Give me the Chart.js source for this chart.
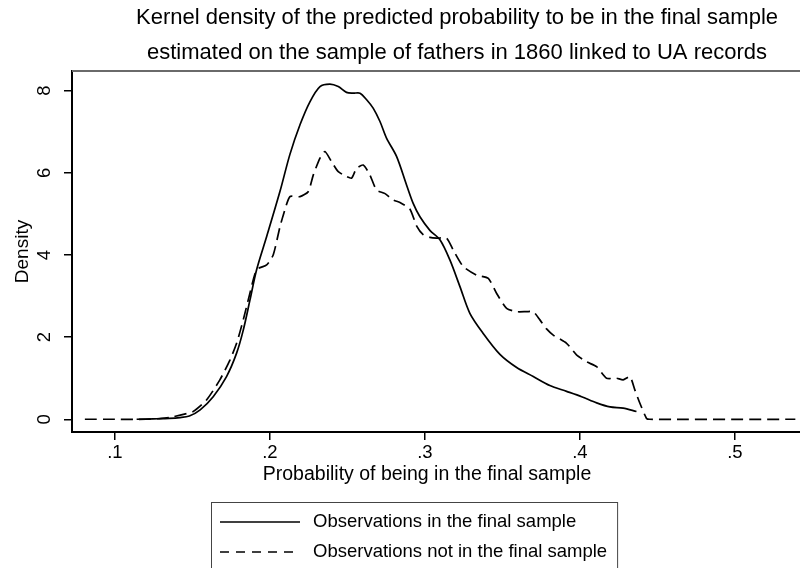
<!DOCTYPE html>
<html>
<head>
<meta charset="utf-8">
<script src="https://cdn.jsdelivr.net/npm/chart.js@4/dist/chart.umd.min.js"></script>
<style>
html,body{margin:0;padding:0;background:#fff;overflow:hidden;}
#wrap{width:800px;height:568px;}
</style>
</head>
<body>
<div id="wrap"><canvas id="c" width="800" height="568"></canvas></div>
<script>
// ---- data ----
const titleLines = [
  "Kernel density of the predicted probability to be in the final sample",
  "estimated on the sample of fathers in 1860 linked to UA records"
];
const xTitle = "Probability of being in the final sample";
const yTitle = "Density";
const seriesNames = ["Observations in the final sample", "Observations not in the final sample"];
const xTicks = [0.1, 0.2, 0.3, 0.4, 0.5];
const yTicks = [0, 2, 4, 6, 8];

const inX = [0.114,0.125,0.135,0.142,0.148,0.155,0.1634,0.172,0.1785,0.1828,0.1871,0.1914,0.1979,0.2065,0.2129,0.2194,0.2258,0.2323,0.2387,0.2441,0.2494,0.2537,0.2581,0.2624,0.2667,0.271,0.2753,0.2817,0.2882,0.2925,0.2968,0.3032,0.3097,0.3161,0.3226,0.329,0.3376,0.3484,0.3592,0.3699,0.3806,0.3914,0.4011,0.4108,0.4194,0.4279,0.4365];
const inY = [0,0.01,0.02,0.04,0.08,0.23,0.55,1.04,1.61,2.17,2.90,3.64,4.45,5.55,6.45,7.17,7.73,8.10,8.16,8.10,7.96,7.94,7.94,7.78,7.57,7.25,6.84,6.40,5.70,5.25,4.93,4.60,4.37,3.88,3.23,2.58,2.09,1.58,1.26,1.04,0.82,0.68,0.55,0.40,0.30,0.27,0.19];

const outX = [0.0806,0.10,0.12,0.13,0.1376,0.1505,0.1591,0.1677,0.1742,0.1785,0.1828,0.1871,0.1914,0.1979,0.2021,0.2065,0.2086,0.2129,0.2194,0.2247,0.228,0.2323,0.2355,0.2398,0.2441,0.2494,0.2527,0.2559,0.2602,0.2645,0.2688,0.274,0.2795,0.2839,0.2903,0.2946,0.299,0.3032,0.3075,0.314,0.3183,0.3247,0.3333,0.3409,0.3462,0.3527,0.3592,0.3656,0.3699,0.3742,0.3785,0.3828,0.3914,0.3978,0.4043,0.4108,0.4172,0.4236,0.4279,0.4323,0.4355,0.4387,0.443,0.445,0.539];
const outY = [0,0,0,0.02,0.06,0.19,0.47,0.96,1.44,1.85,2.42,3.07,3.64,3.76,4.00,4.69,4.97,5.42,5.42,5.54,5.95,6.36,6.52,6.27,6.03,5.91,5.87,6.11,6.19,5.95,5.58,5.50,5.34,5.28,5.12,4.71,4.49,4.43,4.41,4.41,4.12,3.72,3.51,3.43,3.07,2.70,2.62,2.62,2.62,2.42,2.20,2.05,1.85,1.57,1.40,1.28,1.00,1.00,0.96,1.04,0.71,0.39,0.02,0,0];

const FONT = "'Liberation Sans', Arial, Helvetica, sans-serif";

const pts = (xs, ys) => xs.map((x, i) => ({x: x, y: ys[i]}));

const frameAndLegend = {
  id: 'frameAndLegend',
  afterLayout(chart) {
    // centre the title the way the reference does (over a plot region wider than the window)
    const t = chart.titleBlock;
    if (t) { t.left = 114; t.right = 800; }
  },
  afterDraw(chart) {
    const ctx = chart.ctx;
    const a = chart.chartArea;
    ctx.save();
    // top outline of plot region
    ctx.strokeStyle = '#6a6a6a';
    ctx.lineWidth = 2;
    ctx.beginPath();
    ctx.moveTo(a.left, a.top);
    ctx.lineTo(a.right, a.top);
    ctx.stroke();
    // x axis title
    ctx.font = '19.5px ' + FONT;
    ctx.fillStyle = '#000';
    ctx.textAlign = 'center';
    ctx.textBaseline = 'middle';
    ctx.fillText(xTitle, 427, 475);
    // legend
    ctx.font = '18.5px ' + FONT;
    const tw = Math.max(...seriesNames.map(s => ctx.measureText(s).width));
    const lx = 211, ly = 502, lh = 66;
    const lw = 102 + tw + 10;
    ctx.strokeStyle = '#444';
    ctx.lineWidth = 1;
    ctx.strokeRect(lx + 0.5, ly + 0.5, lw, lh);
    const rows = [ly + 20, ly + 50];
    const dashes = [[], [9, 7]];
    ctx.strokeStyle = '#000';
    ctx.lineWidth = 1.6;
    ctx.textAlign = 'left';
    for (let i = 0; i < 2; i++) {
      ctx.setLineDash(dashes[i]);
      ctx.beginPath();
      ctx.moveTo(lx + 9, rows[i]);
      ctx.lineTo(lx + 89, rows[i]);
      ctx.stroke();
      ctx.setLineDash([]);
      ctx.fillText(seriesNames[i], lx + 102, rows[i]);
    }
    ctx.restore();
  }
};

new Chart(document.getElementById('c'), {
  type: 'line',
  data: {
    datasets: [
      {label: seriesNames[0], data: pts(inX, inY), borderColor: '#000', borderWidth: 1.7, pointRadius: 0, tension: 0.3, fill: false},
      {label: seriesNames[1], data: pts(outX, outY), borderColor: '#000', borderWidth: 1.7, borderDash: [12, 6], pointRadius: 0, tension: 0.2, fill: false}
    ]
  },
  options: {
    responsive: false,
    animation: false,
    devicePixelRatio: 1,
    layout: {padding: {left: 0, right: 0, top: 0, bottom: 78}},
    plugins: {
      legend: {display: false},
      tooltip: {enabled: false},
      title: {
        display: true,
        text: titleLines,
        color: '#000',
        font: {family: FONT, size: 22, weight: 'normal', lineHeight: 35 / 22},
        padding: {top: 0, bottom: 1}
      }
    },
    scales: {
      x: {
        type: 'linear',
        min: 0.0723,
        max: 0.542,
        afterBuildTicks: s => { s.ticks = xTicks.map(v => ({value: v})); },
        afterFit: s => { s.height = 58; },
        ticks: {
          color: '#000', autoSkip: false, maxRotation: 0, padding: 2,
          font: {family: FONT, size: 18.5},
          callback: v => Number(v).toFixed(1).replace(/^0/, '')
        },
        grid: {display: true, drawOnChartArea: false, drawTicks: true, tickLength: 8, color: '#000', lineWidth: 1.5},
        border: {display: true, color: '#000', width: 2},
        title: {display: false}
      },
      y: {
        type: 'linear',
        min: -0.31,
        max: 8.48,
        afterBuildTicks: s => { s.ticks = yTicks.map(v => ({value: v})); },
        afterFit: s => { s.width = 72; },
        ticks: {
          color: '#000', autoSkip: false, minRotation: 90, maxRotation: 90, crossAlign: 'center', padding: 14,
          font: {family: FONT, size: 18.5},
          callback: v => String(v)
        },
        grid: {display: true, drawOnChartArea: false, drawTicks: true, tickLength: 8, color: '#000', lineWidth: 1.5},
        border: {display: true, color: '#000', width: 2},
        title: {display: true, text: yTitle, color: '#000', font: {family: FONT, size: 19}, padding: {top: 11, bottom: 0}}
      }
    }
  },
  plugins: [frameAndLegend]
});
</script>
</body>
</html>
